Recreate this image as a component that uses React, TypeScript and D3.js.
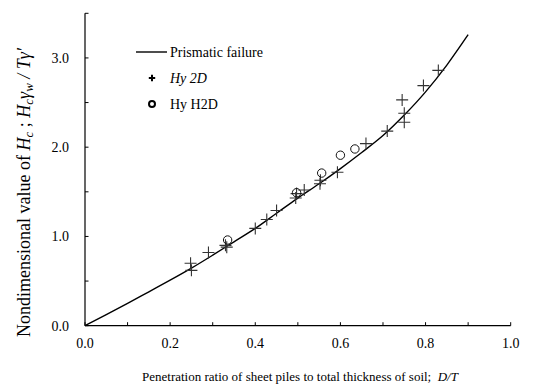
import React from 'react';
import * as d3 from 'd3';

// prismatic failure curve (D/T -> nondimensional Hc)
const curveX = [0, 0.05, 0.1, 0.15, 0.2, 0.25, 0.3, 0.35, 0.4, 0.45, 0.5, 0.55, 0.6, 0.65, 0.7, 0.75, 0.8, 0.85, 0.9];
const curveY = [0, 0.125, 0.25, 0.38, 0.51, 0.645, 0.79, 0.94, 1.09, 1.26, 1.43, 1.59, 1.76, 1.94, 2.13, 2.36, 2.62, 2.92, 3.26];

// Hy 2D results
const hy2dX = [0.248, 0.25, 0.29, 0.33, 0.333, 0.4, 0.427, 0.45, 0.495, 0.497, 0.515, 0.552, 0.553, 0.593, 0.66, 0.71, 0.745, 0.75, 0.75, 0.795, 0.83];
const hy2dY = [0.7, 0.62, 0.82, 0.9, 0.88, 1.09, 1.19, 1.29, 1.43, 1.48, 1.52, 1.59, 1.63, 1.72, 2.04, 2.18, 2.53, 2.28, 2.38, 2.69, 2.86];

// Hy H2D results
const hyh2dX = [0.335, 0.497, 0.556, 0.6, 0.634];
const hyh2dY = [0.96, 1.49, 1.71, 1.91, 1.98];

const xTickLabels = [0, 0.2, 0.4, 0.6, 0.8, 1.0];
const yTickLabels = [0, 1, 2, 3];

const W = 540;
const H = 387;
const left = 85;
const right = 510.7;
const bottom = 325.7;
const top = 13.3;
const font = "'Liberation Serif', 'Times New Roman', Times, serif";

export default function App() {
  const x = d3.scaleLinear().domain([0, 1]).range([left, right]);
  const y = d3.scaleLinear().domain([0, 3.5]).range([bottom, top]);

  const line = d3.line<number>()
    .x((d, i) => x(curveX[i]))
    .y(d => y(d))
    .curve(d3.curveMonotoneX);

  const xMinor = d3.range(0, 11).map(i => i / 10);
  const yMinor = d3.range(0, 8).map(i => i / 2);

  const plus = (cx: number, cy: number, s: number) => `M${cx - s},${cy}H${cx + s}M${cx},${cy - s}V${cy + s}`;

  return (
    <svg width={W} height={H} style={{ position: 'absolute', left: 0, top: 0, background: '#fff', fontFamily: font }}>
      {/* axes */}
      <line x1={left} x2={left} y1={top} y2={bottom} stroke="#000" strokeWidth={1.2} />
      <line x1={left} x2={right} y1={bottom} y2={bottom} stroke="#000" strokeWidth={1.2} />
      {xMinor.map(v => (
        <line key={'xt' + v} x1={x(v)} x2={x(v)} y1={bottom} y2={bottom - 3.5} stroke="#000" strokeWidth={1} />
      ))}
      {yMinor.map(v => (
        <line key={'yt' + v} x1={left} x2={left + 3.5} y1={y(v)} y2={y(v)} stroke="#000" strokeWidth={1} />
      ))}
      {xTickLabels.map(v => (
        <text key={'xl' + v} x={x(v)} y={348} fontSize={14} textAnchor="middle">{v.toFixed(1)}</text>
      ))}
      {yTickLabels.map(v => (
        <text key={'yl' + v} x={69} y={y(v)} dy="0.35em" fontSize={14} textAnchor="end">{v.toFixed(1)}</text>
      ))}

      {/* axis titles */}
      <text x={300} y={381} fontSize={13} textAnchor="middle">
        Penetration ratio of sheet piles to total thickness of soil;{'\u00a0\u00a0'}<tspan fontStyle="italic">D/T</tspan>
      </text>
      <text transform="translate(30,337) rotate(-90)" fontSize={18} textAnchor="start">
        Nondimensional value of <tspan fontStyle="italic">H</tspan><tspan fontStyle="italic" fontSize={13} dy={3}>c</tspan>
        <tspan dy={-3}>{'\u00a0'}; </tspan><tspan fontStyle="italic">H</tspan><tspan fontStyle="italic" fontSize={13} dy={3}>c</tspan>
        <tspan fontStyle="italic" dy={-3}>γ</tspan><tspan fontStyle="italic" fontSize={13} dy={3}>w</tspan>
        <tspan dy={-3} fontStyle="italic">{'\u00a0'}/ Tγ′</tspan>
      </text>

      {/* curve */}
      <path d={line(curveY) || ''} fill="none" stroke="#000" strokeWidth={1.4} />

      {/* points */}
      {hy2dX.map((v, i) => (
        <path key={'p' + i} d={plus(x(v), y(hy2dY[i]), 6)} stroke="#333" strokeWidth={1.1} fill="none" />
      ))}
      {hyh2dX.map((v, i) => (
        <circle key={'c' + i} cx={x(v)} cy={y(hyh2dY[i])} r={4.2} stroke="#111" strokeWidth={1} fill="none" />
      ))}

      {/* legend */}
      <line x1={136} x2={167} y1={52} y2={52} stroke="#000" strokeWidth={1.4} />
      <text x={170} y={52} dy="0.35em" fontSize={14}>Prismatic failure</text>
      <path d={plus(152, 78, 3.2)} stroke="#000" strokeWidth={2} fill="none" />
      <text x={170} y={78} dy="0.35em" fontSize={14} fontStyle="italic">Hy 2D</text>
      <circle cx={152} cy={104} r={3} stroke="#000" strokeWidth={2} fill="none" />
      <text x={170} y={104} dy="0.35em" fontSize={14}>Hy H2D</text>
    </svg>
  );
}
